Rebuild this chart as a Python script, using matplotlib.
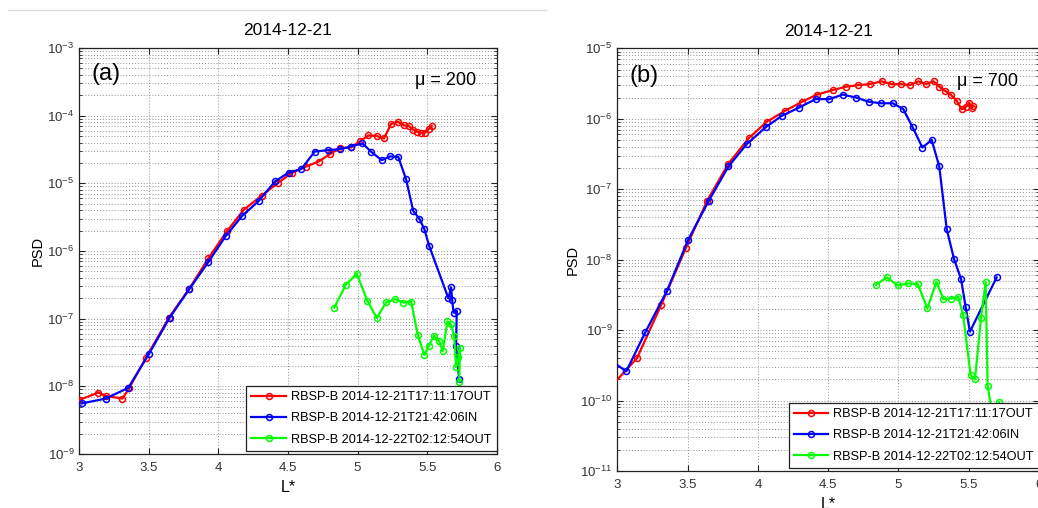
import matplotlib
matplotlib.use("Agg")
import matplotlib.pyplot as plt
from matplotlib.ticker import LogLocator, FixedLocator, LogFormatterSciNotation, NullFormatter
from matplotlib.lines import Line2D

plt.rcParams['font.family'] = ['Liberation Sans', 'DejaVu Sans']
plt.rcParams['mathtext.fontset'] = 'custom'
plt.rcParams['mathtext.rm'] = 'Liberation Sans'
plt.rcParams['mathtext.default'] = 'regular'

# ---------------- data ----------------
title_text = "2014-12-21"
legend_labels = ["RBSP-B 2014-12-21T17:11:17OUT",
                 "RBSP-B 2014-12-21T21:42:06IN",
                 "RBSP-B 2014-12-22T02:12:54OUT"]
series_colors = ["#ff0000", "#0000ff", "#00ff00"]

# panel (a), mu = 200
L_a_red = [3.00, 3.137, 3.19, 3.31, 3.357, 3.477, 3.645, 3.789, 3.928, 4.06, 4.184, 4.311,
           4.43, 4.53, 4.63, 4.72, 4.80, 4.874, 4.955, 5.018, 5.078, 5.138, 5.19, 5.24,
           5.289, 5.334, 5.37, 5.40, 5.43, 5.454, 5.485, 5.51, 5.533]
psd_a_red = [6.3e-9, 8.1e-9, 7.2e-9, 6.6e-9, 9.3e-9, 2.6e-8, 1.04e-7, 2.75e-7, 7.8e-7, 1.95e-6,
             4.1e-6, 6.6e-6, 1.02e-5, 1.44e-5, 1.77e-5, 2.1e-5, 2.7e-5, 3.3e-5, 3.4e-5, 4.2e-5,
             5.1e-5, 5.0e-5, 4.6e-5, 7.5e-5, 8.1e-5, 7.2e-5, 7.0e-5, 6.2e-5, 5.8e-5, 5.5e-5,
             5.6e-5, 6.3e-5, 7.0e-5]

L_a_blue = [3.02, 3.19, 3.352, 3.50, 3.65, 3.789, 3.928, 4.052, 4.17, 4.29, 4.407, 4.505,
            4.596, 4.692, 4.79, 4.874, 4.953, 5.035, 5.10, 5.174, 5.234, 5.293, 5.349, 5.40,
            5.444, 5.48, 5.514, 5.653, 5.672, 5.68, 5.69, 5.713, 5.708, 5.73]
psd_a_blue = [5.6e-9, 6.6e-9, 9.5e-9, 3.0e-8, 1.04e-7, 2.7e-7, 6.9e-7, 1.66e-6, 3.3e-6, 5.5e-6,
              1.07e-5, 1.44e-5, 1.63e-5, 2.95e-5, 3.1e-5, 3.2e-5, 3.5e-5, 3.9e-5, 2.9e-5, 2.2e-5,
              2.5e-5, 2.45e-5, 1.14e-5, 3.9e-6, 3.0e-6, 2.1e-6, 1.2e-6, 2.0e-7, 2.9e-7, 1.9e-7,
              1.23e-7, 1.3e-7, 3.9e-8, 1.3e-8]

L_a_green = [4.833, 4.915, 4.994, 5.07, 5.138, 5.205, 5.27, 5.33, 5.385, 5.433, 5.48, 5.51,
             5.55, 5.586, 5.612, 5.646, 5.67, 5.694, 5.708, 5.725, 5.737, 5.73]
psd_a_green = [1.46e-7, 3.16e-7, 4.6e-7, 1.85e-7, 1.02e-7, 1.74e-7, 1.94e-7, 1.73e-7, 1.78e-7,
               5.7e-8, 2.9e-8, 3.9e-8, 5.6e-8, 4.7e-8, 3.3e-8, 9.1e-8, 8.3e-8, 5.6e-8, 1.9e-8,
               2.7e-8, 3.7e-8, 1.17e-8]

# panel (b), mu = 700
L_b_red = [2.97, 3.14, 3.313, 3.489, 3.638, 3.79, 3.935, 4.064, 4.195, 4.313, 4.42, 4.532,
           4.627, 4.714, 4.797, 4.88, 4.95, 5.018, 5.082, 5.14, 5.196, 5.25, 5.29, 5.33,
           5.371, 5.414, 5.45, 5.48, 5.503, 5.52, 5.53]
psd_b_red = [1.7e-10, 4.0e-10, 2.3e-9, 1.48e-8, 6.8e-8, 2.3e-7, 5.3e-7, 9.1e-7, 1.3e-6, 1.74e-6,
             2.2e-6, 2.55e-6, 2.85e-6, 3.0e-6, 3.1e-6, 3.4e-6, 3.1e-6, 3.1e-6, 3.0e-6, 3.4e-6,
             3.1e-6, 3.4e-6, 2.85e-6, 2.5e-6, 2.2e-6, 1.8e-6, 1.36e-6, 1.48e-6, 1.69e-6, 1.41e-6,
             1.5e-6]

L_b_blue = [2.97, 3.064, 3.199, 3.353, 3.503, 3.65, 3.79, 3.92, 4.056, 4.17, 4.29, 4.41,
            4.508, 4.603, 4.698, 4.79, 4.876, 4.96, 5.034, 5.10, 5.17, 5.236, 5.29, 5.343,
            5.395, 5.445, 5.478, 5.508, 5.698]
psd_b_blue = [3.5e-10, 2.6e-10, 9.3e-10, 3.6e-9, 1.9e-8, 6.8e-8, 2.1e-7, 4.35e-7, 7.6e-7, 1.1e-6,
              1.43e-6, 1.9e-6, 1.9e-6, 2.2e-6, 2.0e-6, 1.74e-6, 1.66e-6, 1.66e-6, 1.37e-6, 7.6e-7,
              3.9e-7, 5.0e-7, 2.1e-7, 2.7e-8, 1.02e-8, 5.3e-9, 2.1e-9, 9.5e-10, 5.6e-9]

L_b_green = [4.84, 4.916, 4.994, 5.07, 5.137, 5.205, 5.27, 5.32, 5.374, 5.425, 5.46, 5.513,
             5.544, 5.587, 5.62, 5.634, 5.67, 5.716]
psd_b_green = [4.4e-9, 5.6e-9, 4.3e-9, 4.6e-9, 4.5e-9, 2.04e-9, 4.8e-9, 2.75e-9, 2.8e-9, 2.95e-9,
               1.63e-9, 2.3e-10, 2.0e-10, 1.5e-9, 4.8e-9, 1.6e-10, 6.0e-11, 9.5e-11]

xticks = [3, 3.5, 4, 4.5, 5, 5.5, 6]
xtick_labels = ["3", "3.5", "4", "4.5", "5", "5.5", "6"]

# ---------------- figure ----------------
W, H = 1038, 508
fig = plt.figure(figsize=(W / 100, H / 100), dpi=100)

fig.add_artist(Line2D([8 / W, 546 / W], [1 - 10 / H, 1 - 10 / H], color="#dcdcdc", lw=1.0))


def make_panel(rect, ylim, series, letter, mu_text, ylab_x, xlab_y, mu_y):
    ax = fig.add_axes(rect)
    ax.set_yscale('log')
    for (L, p), c, lab in zip(series, series_colors, legend_labels):
        ax.plot(L, p, '-o', color=c, lw=1.6, ms=4.3, mfc='none', mew=1.1, label=lab, zorder=3)
    ax.set_xlim(3, 6)
    ax.set_ylim(*ylim)
    ax.xaxis.set_major_locator(FixedLocator(xticks))
    ax.set_xticklabels(xtick_labels)
    ax.yaxis.set_major_locator(LogLocator(base=10, numticks=20))
    ax.yaxis.set_minor_locator(LogLocator(base=10, subs=range(2, 10), numticks=100))
    ax.yaxis.set_major_formatter(LogFormatterSciNotation())
    ax.yaxis.set_minor_formatter(NullFormatter())
    ax.grid(True, which='major', axis='both', color='#8f8f8f', linestyle=(0, (1, 2)), lw=0.7)
    ax.grid(True, which='minor', axis='y', color='#8f8f8f', linestyle=(0, (1, 2)), lw=0.7)
    ax.set_axisbelow(True)
    ax.tick_params(which='both', direction='in', top=True, right=True, labelsize=9.5,
                   colors='#222222', labelcolor='#333333')
    ax.tick_params(which='major', length=4, width=0.8)
    ax.tick_params(which='minor', length=2, width=0.6)
    ax.tick_params(axis='x', pad=6)
    for s in ax.spines.values():
        s.set_color('#222222')
        s.set_linewidth(0.9)
    ax.set_title(title_text, fontsize=12.5, pad=9)
    ax.set_ylabel("PSD", fontsize=10.5)
    ax.yaxis.set_label_coords(ylab_x, 0.5)
    ax.set_xlabel("L*", fontsize=11.5, va='top')
    ax.xaxis.set_label_coords(0.5, xlab_y)
    ax.text(0.03, 0.935, letter, transform=ax.transAxes, fontsize=17, ha='left', va='center')
    ax.text(0.95, mu_y, mu_text, transform=ax.transAxes, fontsize=13, ha='right', va='center')
    leg = ax.legend(loc='lower right', bbox_to_anchor=(1.0, 0.008), borderaxespad=0,
                    fontsize=9.2, frameon=True, fancybox=False, framealpha=1,
                    edgecolor='#222222', handlelength=2.7, handletextpad=0.4,
                    labelspacing=0.72, borderpad=0.4, numpoints=1)
    leg.get_frame().set_linewidth(0.9)
    leg.set_zorder(10)
    return ax


make_panel([79.3 / W, 1 - 454 / H, 417.4 / W, 406 / H], (1e-9, 1e-3),
           [(L_a_red, psd_a_red), (L_a_blue, psd_a_blue), (L_a_green, psd_a_green)],
           "(a)", "\u03bc = 200", -0.082, -0.064, 0.92)
make_panel([617.3 / W, 1 - 471 / H, 421.8 / W, 422.7 / H], (1e-11, 1e-5),
           [(L_b_red, psd_b_red), (L_b_blue, psd_b_blue), (L_b_green, psd_b_green)],
           "(b)", "\u03bc = 700", -0.090, -0.061, 0.921)

fig.savefig("out.png", dpi=100)
